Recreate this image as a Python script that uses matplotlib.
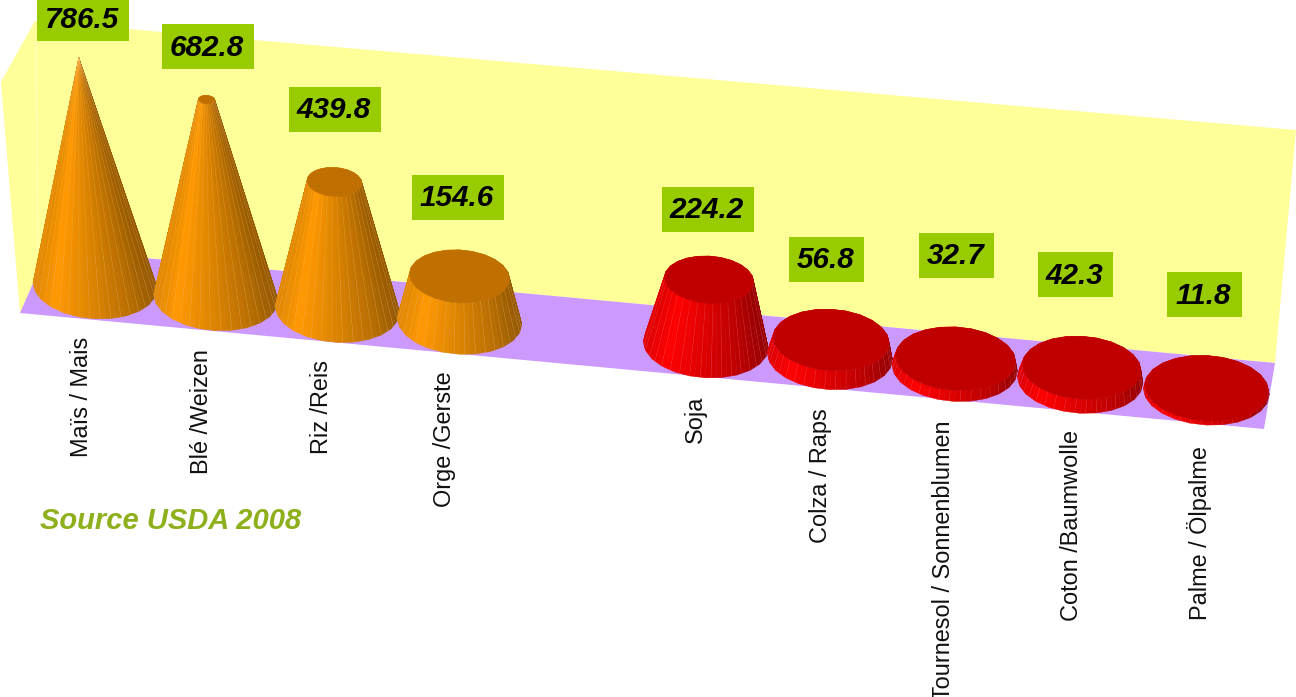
import numpy as np
import matplotlib
matplotlib.use("Agg")
import matplotlib.pyplot as plt
from matplotlib.collections import PolyCollection
from matplotlib.patches import Polygon, Rectangle

# Data
labels = ["Maïs / Mais", "Blé /Weizen", "Riz /Reis", "Orge /Gerste", "Soja",
          "Colza / Raps", "Tournesol / Sonnenblumen", "Coton /Baumwolle", "Palme / Ölpalme"]
values = [786.5, 682.8, 439.8, 154.6, 224.2, 56.8, 32.7, 42.3, 11.8]
value_text = ["786.5", "682.8", "439.8", "154.6", "224.2", "56.8", "32.7", "42.3", "11.8"]
slots = [0, 1, 2, 3, 5, 6, 7, 8, 9]
groups = ["cereal", "cereal", "cereal", "cereal", "oil", "oil", "oil", "oil", "oil"]

# Layout, in pixels of the output picture
box_left = [37, 162, 289, 412, 662, 789, 919, 1038, 1167]
box_top = [-4, 24, 87, 175, 187, 237, 233, 252, 272]
label_x = [81, 202, 322, 445, 695, 820, 944, 1071, 1200]
label_top = [337, 349, 360, 371, 396, 408, 420, 430, 446]

base_rgb = {"cereal": np.array([1.0, 0.6, 0.0]), "oil": np.array([1.0, 0.0, 0.0])}
top_rgb = {"cereal": "#C07000", "oil": "#C00000"}
seam_rgb = {"cereal": "#FFC070", "oil": "#FF7070"}

plt.rcParams["font.family"] = ["Liberation Sans", "DejaVu Sans"]

fig = plt.figure(figsize=(12.96, 6.97), dpi=100)
ax = fig.add_axes([0, 0, 1, 1])
ax.set_xlim(0, 1296)
ax.set_ylim(697, 0)
ax.axis("off")

# Walls and floor
ax.add_patch(Polygon([(1, 82), (35, 21), (1296, 130), (1275, 363), (48, 249), (20, 313)],
                     fc="#FFFF99", ec="none"))
ax.add_patch(Polygon([(20, 313), (48, 249), (1275, 363), (1264, 429)], fc="#CC99FF", ec="none"))
ax.plot([36, 38], [43, 250], color="#FFFFC8", lw=0.6)


def outline(cx, cy, r, n=24, sub=3):
    # slightly faceted, sheared ellipse as in the 3D chart
    t = np.linspace(0, 2 * np.pi, n + 1)
    t_fine = np.linspace(0, 2 * np.pi, n * sub + 1)
    x = np.interp(t_fine, t, cx + r * np.cos(t))
    y = np.interp(t_fine, t, cy + r * (0.53 * np.sin(t) + 0.05 * np.cos(t)))
    return x, y, t_fine


def shade(u):
    # u = -1 left edge, +1 right edge
    return np.interp(u, [-1, -0.65, 0, 0.6, 1], [0.88, 1.0, 0.86, 0.72, 0.58])


max_val = max(values)
for slot, val, grp in zip(slots, values, groups):
    cx = 95 + 120.5 * slot + 0.33 * slot ** 2
    cy = 286 + 11.75 * slot
    R = 62 + 0.1 * slot
    h = val * 0.29
    r_top = R * (1 - val / max_val)
    top_cx = cx + (cx - 450) * 0.0002 * h
    top_cy = cy - h

    xb, yb, t = outline(cx, cy, R)
    xt, yt, _ = outline(top_cx, top_cy, r_top)
    mid = (t[:-1] + t[1:]) / 2
    order = np.argsort(np.sin(mid))
    quads = []
    cols = []
    for k in order:
        quads.append([(xb[k], yb[k]), (xb[k + 1], yb[k + 1]), (xt[k + 1], yt[k + 1]), (xt[k], yt[k])])
        cols.append(base_rgb[grp] * shade(np.cos(mid[k])))
    ax.add_collection(PolyCollection(quads, facecolors=cols, edgecolors=cols, linewidths=0.3))
    # light seams between the strips
    front = np.where(np.sin(t[:-1]) > 0.05)[0][::2]
    for k in front:
        ax.plot([xb[k], xt[k]], [yb[k], yt[k]], color=seam_rgb[grp], lw=0.35, alpha=0.4)
    if r_top > 0.5:
        ax.add_patch(Polygon(np.column_stack([xt, yt]), fc=top_rgb[grp], ec=top_rgb[grp], lw=0.4))

# Value boxes
for txt, left, top in zip(value_text, box_left, box_top):
    w = 92 if len(txt) == 5 else 75
    ax.add_patch(Rectangle((left, top), w, 45, fc="#99CC00", ec="none", zorder=5))
    ax.text(left + w / 2 - 1, top + 23.5, txt, ha="center", va="center", fontsize=21.3,
            fontweight="bold", fontstyle="italic", color="black", zorder=6)

# Category labels
for name, x, top in zip(labels, label_x, label_top):
    ax.text(x, top, name, rotation=90, ha="center", va="top", fontsize=16.9, color="#111111", clip_on=True)

ax.text(40, 521, "Source USDA 2008", ha="left", va="center", fontsize=21,
        fontweight="bold", fontstyle="italic", color="#8DB01C")

fig.savefig("out.png", dpi=100)
